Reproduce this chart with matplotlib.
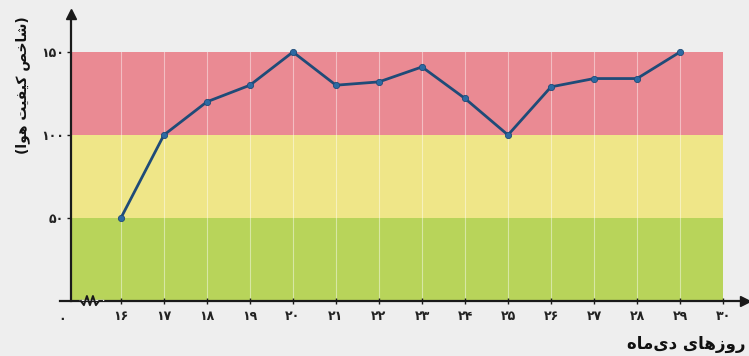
import matplotlib.pyplot as plt

# Air quality index over the days of Dey month
days = [16, 17, 18, 19, 20, 21, 22, 23, 24, 25, 26, 27, 28, 29]
aqi = [50, 100, 120, 130, 150, 130, 132, 141, 122, 100, 129, 134, 134, 150]
tick_days = list(range(16, 31))
y_ticks = [50, 100, 150]

# quality bands: (low, high, colour)
band_edges = [0, 50, 100, 150]
band_colors = ['#b8d45a', '#efe688', '#ea8a93']

FA_DIGITS = str.maketrans('0123456789', '۰۱۲۳۴۵۶۷۸۹')


def fa(n):
    return str(n).translate(FA_DIGITS)


# Persian labels written in presentation forms, in visual (left-to-right) order,
# since matplotlib does no Arabic shaping or bidi reordering itself.
x_title = '\uFEE9\uFE8E\uFEE3\uFEEF\uFEA9 \uFEEF\uFE8E\uFEEB\uFEAF\uFEED\uFEAD'
y_title = ('(\uFE8D\uFEEE\uFEEB \uFE96\uFEF4\uFED4\uFEF4\uFEDB '
           '\uFEBA\uFEA7\uFE8E\uFEB7)')

plt.rcParams['font.family'] = ['DejaVu Sans']

fig = plt.figure(figsize=(7.49, 3.56), dpi=100, facecolor='#eeeeee')
ax = fig.add_axes([71 / 749, 55 / 356, 674 / 749, 291 / 356])
ax.set_facecolor('none')

x0 = 14.84   # where the vertical axis sits (left edge of the axes)
ax.set_xlim(x0, 30.51)
ax.set_ylim(0, 175.3)

for lo, hi, c in zip(band_edges[:-1], band_edges[1:], band_colors):
    ax.fill_between([x0, tick_days[-1]], lo, hi, color=c, lw=0, zorder=0)

for d in tick_days[:-1]:
    ax.plot([d, d], [0, band_edges[-1]], color='white', lw=0.8, alpha=0.45, zorder=1)

ax.plot(days, aqi, color='#1f4b78', lw=2, zorder=3,
        marker='o', ms=4.5, mfc='#2c6aa3', mec='#1f4b78', mew=0.6)

for s in ax.spines.values():
    s.set_visible(False)

# axes with arrow heads; the horizontal one runs a little past the origin
ax.plot([14.58, 30.45], [0, 0], color='#1a1a1a', lw=1.6, zorder=4, clip_on=False)
ax.plot([x0, x0], [0, 172], color='#1a1a1a', lw=1.6, zorder=4, clip_on=False)
ax.plot([30.5], [0], marker='>', color='#1a1a1a', ms=7, clip_on=False, zorder=4)
ax.plot([x0], [173], marker='^', color='#1a1a1a', ms=7, clip_on=False, zorder=4)

# axis break zigzag
zx = [15.07, 15.14, 15.21, 15.28, 15.35, 15.42, 15.49, 15.56]
zy = [0, -2.5, 3, -2.5, 3, -2.5, 0, 0]
ax.plot([15.07, 15.56], [0, 0], color='#eeeeee', lw=2.5, zorder=4)
ax.plot(zx, zy, color='#1a1a1a', lw=1.4, zorder=5, clip_on=False)

ax.set_xticks(tick_days)
ax.set_xticklabels([fa(d) for d in tick_days], fontsize=9, fontweight='bold',
                   color='#222222')
ax.set_yticks(y_ticks)
ax.set_yticklabels([fa(v) for v in y_ticks], fontsize=9, fontweight='bold',
                   color='#222222')
ax.tick_params(axis='x', direction='inout', length=5, width=1, pad=4,
               color='#1a1a1a')
ax.tick_params(axis='y', direction='out', length=3, width=1, pad=2,
               color='#1a1a1a')

ax.text(14.72, -7, fa(0), ha='right', va='top', fontsize=9, fontweight='bold',
        color='#222222', clip_on=False)

fig.text(0.995, 0.035, x_title, ha='right', va='center', fontsize=12,
         fontweight='bold', color='#111111')
fig.text(0.03, 0.76, y_title, ha='center', va='center', rotation=90,
         fontsize=10, fontweight='bold', color='#111111')

fig.savefig('out.png', dpi=100, facecolor=fig.get_facecolor())
